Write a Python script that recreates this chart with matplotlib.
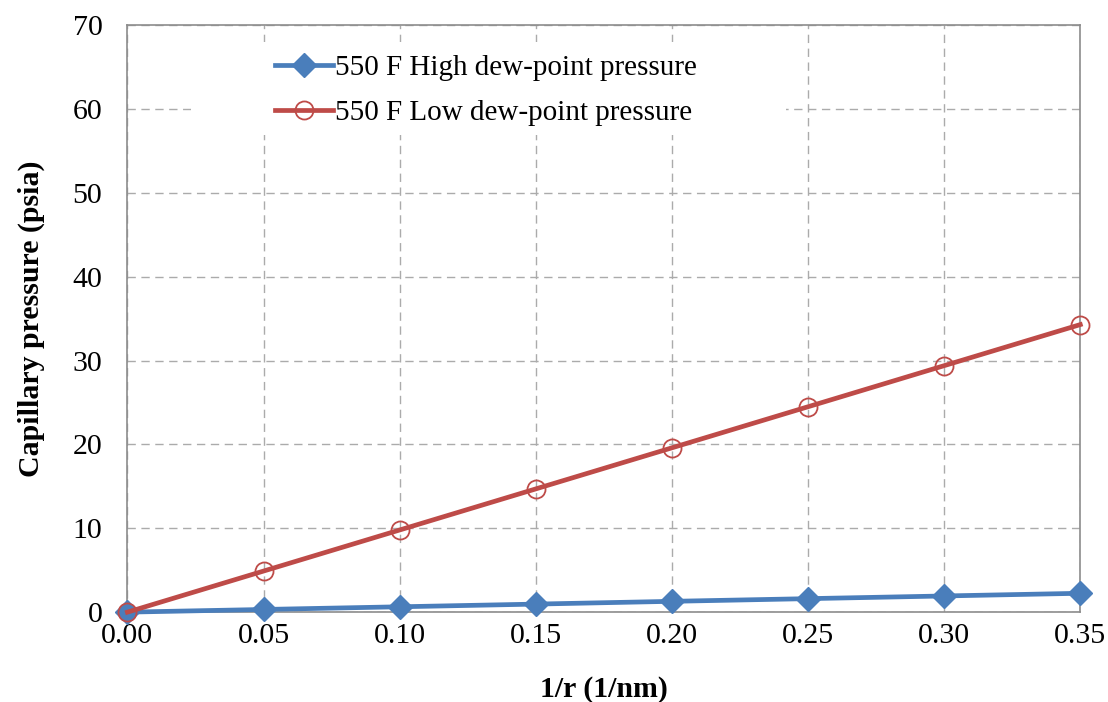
import matplotlib.pyplot as plt
from matplotlib.patches import Rectangle

# x axis values (1/r, 1/nm)
inv_r = [0.00, 0.05, 0.10, 0.15, 0.20, 0.25, 0.30, 0.35]
# capillary pressure, psia
pc_high = [0.0, 0.32, 0.64, 0.96, 1.29, 1.61, 1.93, 2.25]
pc_low = [0.0, 4.9, 9.8, 14.7, 19.6, 24.5, 29.4, 34.3]

plt.rcParams['font.family'] = ['Liberation Serif', 'DejaVu Serif']

fig, ax = plt.subplots(figsize=(11.08, 7.02), dpi=100)
fig.subplots_adjust(left=0.115, right=0.975, top=0.964, bottom=0.128)

ax.plot(inv_r, pc_high, color='#4a7ebb', lw=3.4, marker='D', ms=12,
        label='550 F High dew-point pressure', zorder=3, clip_on=False)
ax.plot(inv_r, pc_low, color='#be4b48', lw=3.4, marker='o', ms=13,
        mfc='none', mec='#be4b48', mew=1.3,
        label='550 F Low dew-point pressure', zorder=4, clip_on=False)

ax.set_xlim(0, 0.35)
ax.set_ylim(0, 70)
ax.set_xticks([0.00, 0.05, 0.10, 0.15, 0.20, 0.25, 0.30, 0.35])
ax.set_xticklabels(['0.00', '0.05', '0.10', '0.15', '0.20', '0.25', '0.30', '0.35'])
ax.set_yticks(range(0, 71, 10))
ax.tick_params(labelsize=21.5, length=0)
ax.tick_params(axis='x', pad=8)
ax.tick_params(axis='y', pad=18)

ax.grid(True, color='#ababab', linestyle=(0, (6, 4)), linewidth=1)
for s in ax.spines.values():
    s.set_color('#8c8c8c')
    s.set_linewidth(1.2)

ax.set_xlabel('1/r (1/nm)', fontsize=21.5, fontweight='bold', labelpad=19)
ax.set_ylabel('Capillary pressure (psia)', fontsize=21.5, fontweight='bold', labelpad=20)

# white legend area hiding the grid
ax.add_patch(Rectangle((0.067, 0.813), 0.624, 0.158, transform=ax.transAxes,
                       facecolor='white', edgecolor='none', zorder=2))

leg = ax.legend(loc='upper left', bbox_to_anchor=(0.155, 0.95), fontsize=21,
                frameon=False, handlelength=2.0, handletextpad=0.05,
                labelspacing=0.65, borderpad=0, borderaxespad=0)

plt.savefig('out.png', dpi=100)
